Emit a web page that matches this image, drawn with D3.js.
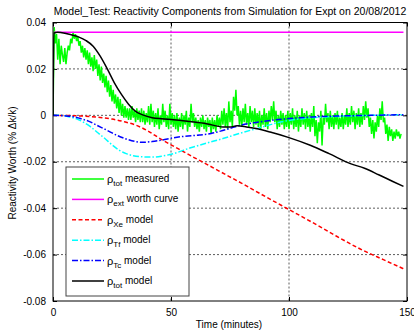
<!DOCTYPE html>
<html>
<head>
<meta charset="utf-8">
<script src="https://cdn.jsdelivr.net/npm/d3@7"></script>
<style>
  body { margin: 0; background: #fff; }
  svg { display: block; font-family: "Liberation Sans", Arial, sans-serif; }
</style>
</head>
<body>
<svg id="chart" width="414" height="333"></svg>
<script>
// x ticks / y ticks
const xTicks = [0, 50, 100, 150];
const yTicks = [-0.08, -0.06, -0.04, -0.02, 0, 0.02, 0.04];

// measured total reactivity, sampled every half minute from t = 0
const measuredStart = 0;
const measuredStep = 0.5;
const rhoTotMeasured = [
  0.000, 0.038, 0.031, 0.035, 0.024, 0.033, 0.022, 0.030, 0.026, 0.023,
  0.029, 0.022, 0.027, 0.030, 0.028, 0.033, 0.031, 0.036, 0.033, 0.035,
  0.032, 0.034, 0.030, 0.032, 0.027, 0.030, 0.025, 0.029, 0.024, 0.028,
  0.022, 0.027, 0.021, 0.025, 0.019, 0.026, 0.020, 0.024, 0.017, 0.022,
  0.015, 0.021, 0.014, 0.018, 0.012, 0.017, 0.010, 0.015, 0.008, 0.013,
  0.006, 0.011, 0.005, 0.009, 0.003, 0.008, 0.001, 0.007, 0.000, 0.005,
  -0.001, 0.004, -0.001, 0.003, -0.002, 0.003, -0.002, 0.004, -0.001, 0.002,
  -0.003, 0.003, -0.002, 0.002, -0.003, 0.003, -0.003, 0.002, -0.004, 0.001,
  -0.003, 0.004, -0.004, 0.005, -0.003, 0.002, -0.005, 0.001, -0.004, 0.003,
  -0.006, 0.000, -0.004, 0.005, -0.003, 0.002, -0.005, 0.000, -0.006, 0.005,
  -0.004, 0.001, -0.005, 0.000, -0.006, 0.001, -0.007, -0.001, -0.005, 0.001,
  -0.006, 0.000, -0.004, 0.002, -0.007, -0.001, -0.005, 0.005, -0.003, 0.001,
  -0.005, -0.001, -0.006, -0.002, -0.007, -0.001, -0.005, 0.000, -0.006, -0.002,
  -0.007, -0.001, -0.005, -0.002, -0.008, -0.001, -0.006, -0.002, -0.007, 0.000,
  -0.005, -0.001, -0.006, 0.002, -0.004, 0.003, -0.005, 0.001, -0.006, 0.006,
  -0.003, 0.002, -0.005, 0.008, 0.002, 0.011, 0.000, 0.004, -0.004, 0.002,
  -0.005, 0.003, -0.003, 0.005, -0.004, 0.001, -0.005, 0.004, -0.003, 0.002,
  -0.005, 0.003, -0.004, 0.001, -0.005, 0.002, -0.006, 0.000, -0.004, 0.003,
  -0.005, 0.001, -0.006, 0.002, -0.003, 0.004, -0.002, 0.006, -0.003, 0.002,
  -0.006, 0.000, -0.005, 0.002, -0.004, 0.001, -0.006, 0.000, -0.005, 0.002,
  -0.006, 0.001, -0.004, 0.003, -0.006, 0.000, -0.005, 0.002, -0.007, 0.000,
  -0.005, 0.003, -0.004, 0.001, -0.006, 0.002, -0.005, 0.000, -0.007, 0.001,
  -0.005, 0.004, -0.009, -0.002, -0.012, -0.003, -0.007, 0.002, -0.013, -0.001,
  -0.004, 0.005, -0.003, 0.001, -0.006, 0.002, -0.005, 0.000, -0.006, 0.001,
  -0.004, 0.002, -0.006, -0.001, -0.005, 0.001, -0.006, 0.000, -0.004, 0.003,
  -0.005, 0.001, -0.004, 0.004, -0.003, 0.002, -0.006, 0.001, -0.004, 0.003,
  -0.005, 0.001, -0.004, 0.004, -0.002, 0.006, -0.001, 0.003, -0.005, -0.001,
  -0.008, -0.002, -0.010, -0.003, -0.007, 0.000, -0.005, 0.003, -0.002, 0.006,
  -0.003, -0.001, -0.008, -0.004, -0.011, -0.005, -0.009, -0.006, -0.011, -0.007,
  -0.010, -0.006, -0.009, -0.007, -0.010, -0.008
];

// external worth curve
const extTime = [0.5, 148.5];
const rhoExt = [0.0358, 0.0358];

// model curves
const totModelTime = [0, 0.4, 2, 5, 8, 11, 14, 17, 20, 23, 26, 29, 32, 35, 38, 42, 46, 51, 58, 65, 72, 75, 78, 82, 86, 92, 100, 109, 117, 126, 132, 138, 144, 148.5];
const rhoTotModel = [0, 0.0355, 0.0358, 0.0354, 0.0346, 0.0337, 0.0322, 0.0298, 0.0255, 0.0200, 0.0140, 0.0090, 0.0048, 0.0017, 0.0002, -0.0010, -0.0015, -0.0019, -0.0027, -0.0036, -0.0050, -0.0050, -0.0045, -0.0050, -0.0057, -0.0072, -0.0096, -0.0129, -0.0165, -0.0208, -0.0228, -0.0256, -0.0285, -0.0306];

const xeTime = [0, 10, 20, 25, 30, 35, 40, 45, 50, 55, 60, 65, 70, 80, 90, 100, 110, 120, 130, 140, 148.5];
const rhoXe = [0, -0.0002, -0.0009, -0.0016, -0.0027, -0.0042, -0.0066, -0.0098, -0.0127, -0.0155, -0.0183, -0.0210, -0.0238, -0.0293, -0.0350, -0.0406, -0.0462, -0.0520, -0.0575, -0.0622, -0.0661];

const tfTime = [0, 3, 7, 10, 13, 16, 19, 22, 25, 28, 31, 34, 38, 42, 46, 51, 58, 65, 72, 80, 87, 94, 100, 108, 120, 135, 148.5];
const rhoTf = [0, 0, -0.0007, -0.0015, -0.0030, -0.0050, -0.0075, -0.0100, -0.0127, -0.0150, -0.0165, -0.0174, -0.0179, -0.0180, -0.0176, -0.0165, -0.0141, -0.0120, -0.0100, -0.0075, -0.0055, -0.0035, -0.0022, -0.0012, -0.0005, 0.0000, 0.0003];

const tcTime = [0, 5, 8, 12, 15, 19, 23, 27, 31, 35, 38, 42, 46, 51, 56, 62, 67, 71, 75, 79, 85, 92, 100, 110, 120, 135, 148.5];
const rhoTc = [0, -0.0002, -0.0005, -0.0015, -0.0025, -0.0045, -0.0065, -0.0086, -0.0102, -0.0113, -0.0116, -0.0113, -0.0107, -0.0097, -0.0090, -0.0085, -0.0078, -0.0068, -0.0056, -0.0044, -0.0032, -0.0022, -0.0014, -0.0007, -0.0003, 0.0000, 0.0003];

const svg = d3.select("#chart");
const axL = 53, axR = 407, axT = 22.5, axB = 301;

const x = d3.scaleLinear().domain([0, 150]).range([axL, axR]);
const y = d3.scaleLinear().domain([-0.08, 0.04]).range([axB, axT]);

svg.append("rect").attr("width", 414).attr("height", 333).attr("fill", "#fff");

svg.append("defs").append("clipPath").attr("id", "clip")
  .append("rect").attr("x", axL).attr("y", axT).attr("width", axR - axL).attr("height", axB - axT);

// grid
const grid = svg.append("g").attr("stroke", "#333").attr("stroke-width", 0.8).attr("stroke-dasharray", "2,2");
grid.selectAll(".gx").data(xTicks.slice(1, -1)).join("line")
  .attr("x1", d => x(d)).attr("x2", d => x(d)).attr("y1", axT).attr("y2", axB);
grid.selectAll(".gy").data(yTicks.slice(1, -1)).join("line")
  .attr("y1", d => y(d)).attr("y2", d => y(d)).attr("x1", axL).attr("x2", axR);

// axes (ticks inside, like matlab)
const fmt = d => d === 0 ? "0" : d3.format(".2f")(d).replace("−", "-");
const xAxis = svg.append("g").attr("transform", `translate(0,${axB})`)
  .call(d3.axisBottom(x).tickValues(xTicks).tickSize(-4).tickPadding(8).tickFormat(d => d));
const xAxisTop = svg.append("g").attr("transform", `translate(0,${axT})`)
  .call(d3.axisTop(x).tickValues(xTicks).tickSize(-4).tickFormat(""));
const yAxis = svg.append("g").attr("transform", `translate(${axL},0)`)
  .call(d3.axisLeft(y).tickValues(yTicks).tickSize(-4).tickPadding(7).tickFormat(fmt));
const yAxisRight = svg.append("g").attr("transform", `translate(${axR},0)`)
  .call(d3.axisRight(y).tickValues(yTicks).tickSize(-4).tickFormat(""));
[xAxis, xAxisTop, yAxis, yAxisRight].forEach(a => {
  a.select(".domain").remove();
  a.selectAll("line").attr("stroke", "#000");
  a.selectAll("text").attr("font-size", 10).attr("fill", "#000").attr("font-family", "Liberation Sans, Arial, sans-serif");
});

// series
const plot = svg.append("g").attr("clip-path", "url(#clip)");
const lineXY = d3.line().x(d => x(d[0])).y(d => y(d[1]));
const smooth = d3.line().x(d => x(d[0])).y(d => y(d[1])).curve(d3.curveMonotoneX);

const measured = rhoTotMeasured.map((v, i) => [measuredStart + i * measuredStep, v]);
plot.append("path").datum(measured).attr("d", lineXY)
  .attr("fill", "none").attr("stroke", "#00ff00").attr("stroke-width", 1.5);

plot.append("path").datum(extTime.map((t, i) => [t, rhoExt[i]])).attr("d", lineXY)
  .attr("fill", "none").attr("stroke", "#ff00ff").attr("stroke-width", 1.5);

plot.append("path").datum(xeTime.map((t, i) => [t, rhoXe[i]])).attr("d", smooth)
  .attr("fill", "none").attr("stroke", "#ff0000").attr("stroke-width", 1.5).attr("stroke-dasharray", "4,2.5");

plot.append("path").datum(tfTime.map((t, i) => [t, rhoTf[i]])).attr("d", smooth)
  .attr("fill", "none").attr("stroke", "#00ffff").attr("stroke-width", 1.5).attr("stroke-dasharray", "6,2,1.5,2");

plot.append("path").datum(tcTime.map((t, i) => [t, rhoTc[i]])).attr("d", smooth)
  .attr("fill", "none").attr("stroke", "#0000ff").attr("stroke-width", 1.5).attr("stroke-dasharray", "6,2,1.5,2");

plot.append("path").datum(totModelTime.map((t, i) => [t, rhoTotModel[i]])).attr("d", smooth)
  .attr("fill", "none").attr("stroke", "#000").attr("stroke-width", 1.5);

// frame
svg.append("rect").attr("x", axL).attr("y", axT).attr("width", axR - axL).attr("height", axB - axT)
  .attr("fill", "none").attr("stroke", "#000").attr("stroke-width", 1);

// legend
const legendItems = [
  { sym: "ρ", sub: "tot", rest: " measured", color: "#00ff00", dash: null },
  { sym: "ρ", sub: "ext", rest: " worth curve", color: "#ff00ff", dash: null },
  { sym: "ρ", sub: "Xe", rest: " model", color: "#ff0000", dash: "4,2.5" },
  { sym: "ρ", sub: "Tf", rest: " model", color: "#00ffff", dash: "6,2,1.5,2" },
  { sym: "ρ", sub: "Tc", rest: " model", color: "#0000ff", dash: "6,2,1.5,2" },
  { sym: "ρ", sub: "tot", rest: " model", color: "#000", dash: null }
];
const lg = svg.append("g");
lg.append("rect").attr("x", 66).attr("y", 167).attr("width", 123).attr("height", 129)
  .attr("fill", "#fff").attr("stroke", "#444").attr("stroke-width", 1);
const rows = lg.selectAll(".row").data(legendItems).join("g")
  .attr("transform", (d, i) => `translate(0,${179 + i * 20.4})`);
rows.append("line").attr("x1", 72).attr("x2", 104).attr("y1", 0).attr("y2", 0)
  .attr("stroke", d => d.color).attr("stroke-width", 1.5)
  .attr("stroke-dasharray", d => d.dash);
const txt = rows.append("text").attr("x", 107).attr("y", 4).attr("font-size", 10).attr("fill", "#000");
txt.append("tspan").attr("font-size", 11).text(d => d.sym);
txt.append("tspan").attr("font-size", 8).attr("dy", 3).text(d => d.sub);
txt.append("tspan").attr("dy", -4).text(d => d.rest);

// title and labels
svg.append("text").attr("x", 230).attr("y", 15).attr("text-anchor", "middle")
  .attr("font-size", 10.5).text("Model_Test: Reactivity Components from Simulation for Expt on 20/08/2012");
svg.append("text").attr("x", 229).attr("y", 328).attr("text-anchor", "middle")
  .attr("font-size", 10).text("Time (minutes)");
svg.append("text").attr("transform", "translate(16,163) rotate(-90)").attr("text-anchor", "middle")
  .attr("font-size", 10).text("Reactivity Worth (% Δk/k)");
</script>
</body>
</html>
